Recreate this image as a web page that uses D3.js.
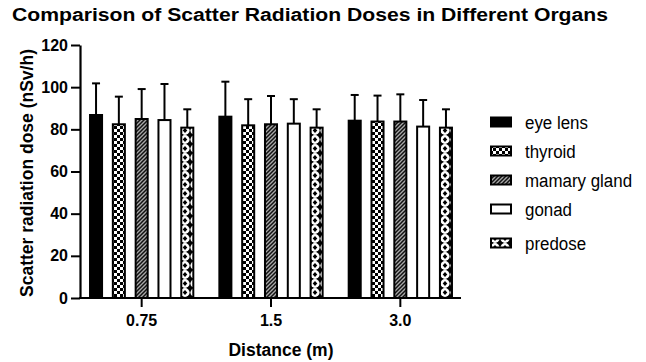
<!DOCTYPE html>
<html>
<head>
<meta charset="utf-8">
<script src="https://cdn.jsdelivr.net/npm/d3@7"></script>
<style>
  html, body { margin: 0; padding: 0; background: #fff; }
  svg { display: block; font-family: "Liberation Sans", Arial, sans-serif; }
</style>
</head>
<body>
<div id="chart"></div>
<script>
// ---------------------------------------------------------------------------
// Grouped bar chart with SD error bars and pattern fills
// ---------------------------------------------------------------------------

const distances = ['0.75', '1.5', '3.0'];
const organs = ['eye lens', 'thyroid', 'mamary gland', 'gonad', 'predose'];

// mean dose per organ, one entry per distance
const eyeLens = [86.8, 86.0, 84.1];
const thyroid = [82.4, 81.9, 83.7];
const mamaryGland = [84.9, 82.4, 83.7];
const gonad = [84.4, 82.7, 81.3];
const predose = [80.8, 80.8, 80.8];

// standard deviation (upper error bar)
const eyeLensSd = [15.0, 16.6, 12.2];
const thyroidSd = [13.1, 12.4, 12.3];
const mamaryGlandSd = [14.2, 13.4, 12.9];
const gonadSd = [17.1, 11.6, 12.6];
const predoseSd = [8.7, 8.7, 8.7];

const yTicks = [0, 20, 40, 60, 80, 100, 120];

const means = [eyeLens, thyroid, mamaryGland, gonad, predose];
const sds = [eyeLensSd, thyroidSd, mamaryGlandSd, gonadSd, predoseSd];

const rows = [];
distances.forEach((dist, di) => {
  organs.forEach((org, oi) => {
    rows.push({ dist, org, oi, value: means[oi][di], sd: sds[oi][di] });
  });
});

const width = 646;
const height = 362;

const svg = d3.select('#chart')
  .append('svg')
  .attr('width', width)
  .attr('height', height);

// patterns
const defs = svg.append('defs');

const checker = defs.append('pattern')
  .attr('id', 'p-checker')
  .attr('patternUnits', 'userSpaceOnUse')
  .attr('width', 6).attr('height', 6);
checker.append('rect').attr('width', 6).attr('height', 6).attr('fill', '#fff');
checker.append('rect').attr('width', 3).attr('height', 3).attr('fill', '#000');
checker.append('rect').attr('x', 3).attr('y', 3).attr('width', 3).attr('height', 3).attr('fill', '#000');

const hatch = defs.append('pattern')
  .attr('id', 'p-hatch')
  .attr('patternUnits', 'userSpaceOnUse')
  .attr('width', 4).attr('height', 4);
hatch.append('rect').attr('width', 4).attr('height', 4).attr('fill', '#a8a8a8');
hatch.append('path')
  .attr('d', 'M-1,1 l2,-2 M0,4 l4,-4 M3,5 l2,-2')
  .attr('stroke', '#111')
  .attr('stroke-width', 1.5);

const diamond = defs.append('pattern')
  .attr('id', 'p-diamond')
  .attr('patternUnits', 'userSpaceOnUse')
  .attr('width', 10).attr('height', 9);
diamond.append('rect').attr('width', 10).attr('height', 9).attr('fill', '#000');
diamond.append('ellipse').attr('cx', 5).attr('cy', 4.5).attr('rx', 4.6).attr('ry', 4.4).attr('fill', '#fff');
diamond.append('path').attr('d', 'M5,2 L7.3,4.5 L5,7 L2.7,4.5 Z').attr('fill', '#000');

const fills = {
  'eye lens': '#000',
  'thyroid': 'url(#p-checker)',
  'mamary gland': 'url(#p-hatch)',
  'gonad': '#fff',
  'predose': 'url(#p-diamond)',
};

// scales
const x0 = d3.scaleBand()
  .domain(distances)
  .range([77, 465])
  .paddingInner(0.186)
  .paddingOuter(0.093);

const x1 = d3.scaleBand()
  .domain(organs)
  .range([0, x0.bandwidth()])
  .paddingInner(0.385)
  .paddingOuter(0);

const y = d3.scaleLinear()
  .domain([0, 120])
  .range([298, 45]);

// title
svg.append('text')
  .attr('x', 12)
  .attr('y', 21)
  .attr('textLength', 596)
  .attr('lengthAdjust', 'spacingAndGlyphs')
  .style('font-size', '18px')
  .style('font-weight', 'bold')
  .text('Comparison of Scatter Radiation Doses in Different Organs');

// bars
const bars = svg.append('g');

bars.selectAll('line.err')
  .data(rows)
  .join('line')
  .attr('class', 'err')
  .attr('x1', (d) => x0(d.dist) + x1(d.org) + x1.bandwidth() / 2)
  .attr('x2', (d) => x0(d.dist) + x1(d.org) + x1.bandwidth() / 2)
  .attr('y1', (d) => y(d.value))
  .attr('y2', (d) => y(d.value + d.sd))
  .attr('stroke', '#000')
  .attr('stroke-width', 2);

bars.selectAll('line.cap')
  .data(rows)
  .join('line')
  .attr('class', 'cap')
  .attr('x1', (d) => x0(d.dist) + x1(d.org) + x1.bandwidth() / 2 - 4)
  .attr('x2', (d) => x0(d.dist) + x1(d.org) + x1.bandwidth() / 2 + 4)
  .attr('y1', (d) => y(d.value + d.sd))
  .attr('y2', (d) => y(d.value + d.sd))
  .attr('stroke', '#000')
  .attr('stroke-width', 2);

bars.selectAll('rect')
  .data(rows)
  .join('rect')
  .attr('x', (d) => x0(d.dist) + x1(d.org) + 1)
  .attr('y', (d) => y(d.value))
  .attr('width', x1.bandwidth() - 2)
  .attr('height', (d) => y(0) - y(d.value))
  .attr('fill', (d) => fills[d.org])
  .attr('stroke', '#000')
  .attr('stroke-width', 2);

// y axis
const yAxis = svg.append('g')
  .attr('transform', 'translate(80,0)')
  .call(d3.axisLeft(y).tickValues(yTicks).tickSize(9).tickSizeOuter(0).tickPadding(3));
yAxis.select('.domain').attr('stroke-width', 2.2);
yAxis.selectAll('.tick line').attr('stroke-width', 2);
yAxis.selectAll('.tick text')
  .style('font-size', '16px')
  .style('font-weight', 'bold')
  .style('font-family', '"Liberation Sans", Arial, sans-serif')
  .attr('fill', '#000');

// x axis
const xAxis = svg.append('g')
  .attr('transform', `translate(0,${y(0)})`)
  .call(d3.axisBottom(x0).tickSize(9).tickSizeOuter(0).tickPadding(8));
xAxis.select('.domain').remove();
xAxis.append('line')
  .attr('x1', 79)
  .attr('x2', 461)
  .attr('stroke', '#000')
  .attr('stroke-width', 2.2);
xAxis.selectAll('.tick line').attr('stroke-width', 2);
xAxis.selectAll('.tick text')
  .style('font-size', '16px')
  .style('font-weight', 'bold')
  .style('font-family', '"Liberation Sans", Arial, sans-serif')
  .attr('fill', '#000');

// axis titles
svg.append('text')
  .attr('transform', 'translate(33,173) rotate(-90)')
  .attr('text-anchor', 'middle')
  .style('font-size', '17.5px')
  .style('font-weight', 'bold')
  .text('Scatter radiation dose (nSv/h)');

svg.append('text')
  .attr('x', 281)
  .attr('y', 356)
  .attr('text-anchor', 'middle')
  .style('font-size', '17.5px')
  .style('font-weight', 'bold')
  .text('Distance (m)');

// legend
const legend = svg.append('g').attr('transform', 'translate(490,0)');
const legendY = (i) => 122 + i * 29 + (i === 4 ? 5 : 0);

const items = legend.selectAll('g')
  .data(organs)
  .join('g')
  .attr('transform', (d, i) => `translate(0,${legendY(i)})`);

items.append('rect')
  .attr('x', 1)
  .attr('y', -4.5)
  .attr('width', 20)
  .attr('height', 9)
  .attr('fill', (d) => fills[d])
  .attr('stroke', '#000')
  .attr('stroke-width', 2);

items.append('text')
  .attr('transform', 'translate(35,0) scale(0.89,1)')
  .attr('dy', '0.35em')
  .style('font-size', '19px')
  .text((d) => d);
</script>
</body>
</html>
